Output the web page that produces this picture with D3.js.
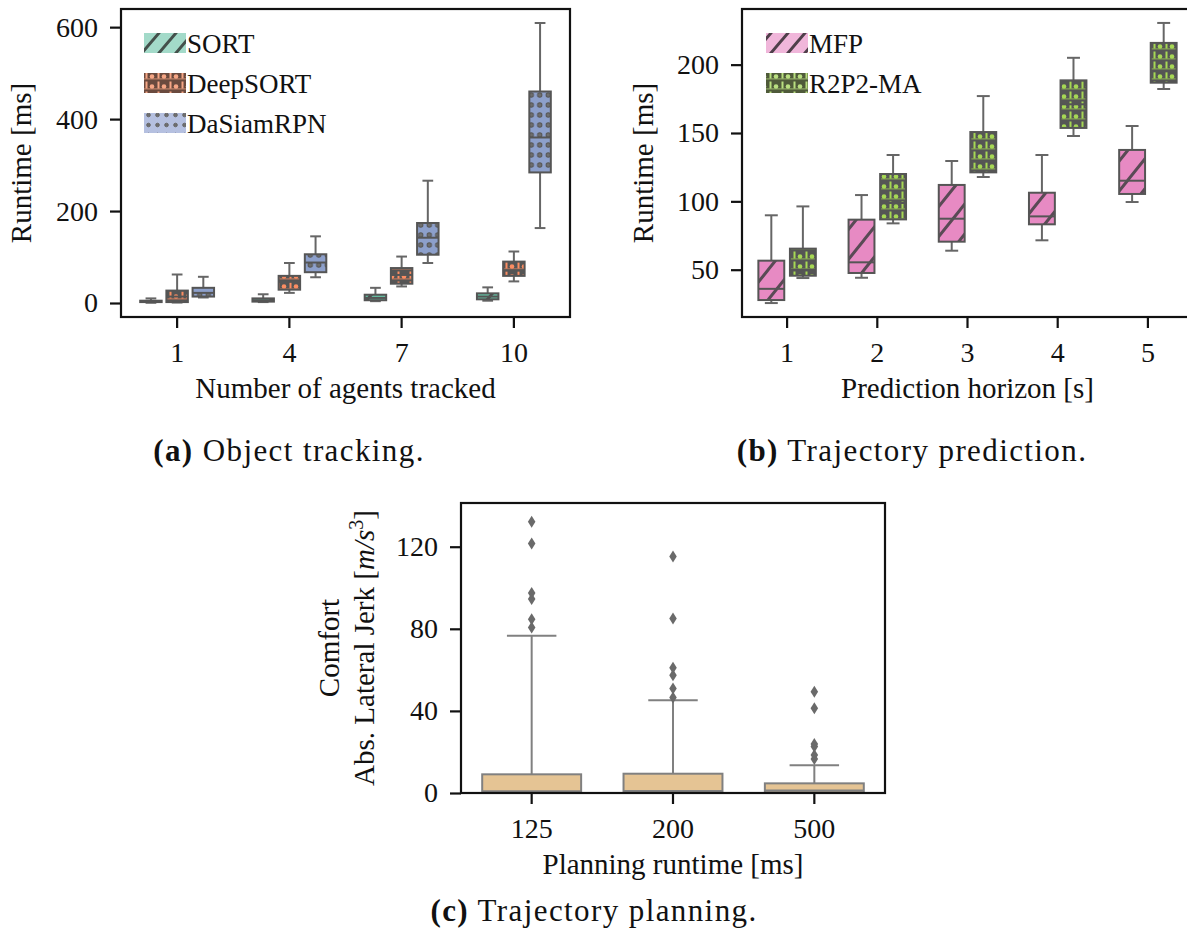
<!DOCTYPE html>
<html>
<head>
<meta charset="utf-8">
<script src="https://cdn.jsdelivr.net/npm/d3@7"></script>
<style>
  body { margin: 0; background: #fff; }
  svg { display: block; font-family: "Liberation Serif", "Times New Roman", serif; }
</style>
</head>
<body>
<svg></svg>
<script>
// Box stats are [lower whisker, q1, median, q3, upper whisker]
const trackCats = ['1', '4', '7', '10'];
const trackSeries = ['SORT', 'DeepSORT', 'DaSiamRPN'];
const sortStats = [[0.5, 2, 3, 5, 10], [2, 3, 6, 10, 19], [4, 6, 11, 18, 33], [5, 8, 14, 21, 34]];
const deepSortStats = [[1, 2, 14, 27, 62], [22, 29, 46, 59, 87], [36, 42, 61, 76, 101], [47, 59, 71, 90, 112]];
const daSiamStats = [[12, 14, 22, 33, 57], [56, 67, 88, 106, 145], [87, 105, 142, 174, 266], [163, 284, 360, 460, 609]];

const predCats = ['1', '2', '3', '4', '5'];
const predSeries = ['MFP', 'R2P2-MA'];
const mfpStats = [[25.6, 27.8, 36, 56.6, 89.8], [44.1, 47.6, 55.4, 86.6, 104.6], [63.9, 70.5, 87.3, 112, 129.5], [71.5, 83.2, 89, 106.3, 133.9], [99.5, 105.4, 115.1, 137.6, 155.1]];
const r2p2Stats = [[43.9, 45.6, 50, 65.4, 96.3], [83.9, 86.8, 98.8, 120, 133.9], [117.8, 121.2, 129, 150.7, 177], [147.8, 153.7, 171, 188.5, 205], [182.2, 186.8, 195.1, 215.9, 230.5]];

const planCats = ['125', '200', '500'];
const planStats = [[0, 0.3, 0.9, 9.1, 76.6], [0, 0.3, 1, 9.4, 45.2], [0, 0.3, 1.2, 4.7, 13.5]];
const planOutliers = [
  [80.6, 84.7, 94.5, 97.4, 121.6, 132.2],
  [46.5, 50.9, 57.4, 61, 85, 115.2],
  [16.6, 18.5, 22.6, 23.9, 41.3, 49.3]
];

const trackTicks = [0, 200, 400, 600];
const predTicks = [50, 100, 150, 200];
const planTicks = [0, 40, 80, 120];

const width = 1187, height = 943;
const svg = d3.select('svg').attr('width', width).attr('height', height);
const defs = svg.append('defs');

// ---- hatch patterns ----
function hatchPattern(id, w, h, bg, line, lw) {
  const p = defs.append('pattern').attr('id', id).attr('patternUnits', 'userSpaceOnUse')
    .attr('width', w).attr('height', h);
  p.append('rect').attr('width', w).attr('height', h).attr('fill', bg);
  p.append('path')
    .attr('d', `M0,${h}L${w},0M${-w / 2},${h / 2}L${w / 2},${-h / 2}M${w / 2},${1.5 * h}L${1.5 * w},${h / 2}`)
    .attr('stroke', line).attr('stroke-width', lw);
}
function dotPattern(id, w, h, bg, dot, r) {
  const p = defs.append('pattern').attr('id', id).attr('patternUnits', 'userSpaceOnUse')
    .attr('width', w).attr('height', h);
  p.append('rect').attr('width', w).attr('height', h).attr('fill', bg);
  p.append('circle').attr('cx', w / 2).attr('cy', h / 2).attr('r', r)
    .attr('fill', '#6e6e6e').attr('stroke', dot).attr('stroke-width', 1);
}
function markPattern(id, bg, mark) {
  const p = defs.append('pattern').attr('id', id).attr('patternUnits', 'userSpaceOnUse')
    .attr('width', 12).attr('height', 10);
  p.append('rect').attr('width', 12).attr('height', 10).attr('fill', bg);
  p.append('rect').attr('x', 1.5).attr('y', 1.5).attr('width', 2).attr('height', 7).attr('fill', mark);
  p.append('circle').attr('cx', 8).attr('cy', 6.5).attr('r', 2.3).attr('fill', mark);
  p.append('rect').attr('x', 0).attr('y', 8.3).attr('width', 12).attr('height', 1.2).attr('fill', mark).attr('opacity', 0.6);
}
hatchPattern('sortBox', 24, 28, '#66c2a5', '#4d4d4d', 3);
hatchPattern('sortLeg', 17, 20, '#a3dac9', '#44504b', 3);
hatchPattern('mfpBox', 24, 30, '#e78ac3', '#5a4a55', 3);
hatchPattern('mfpLeg', 17, 20, '#f0b6da', '#4f3f4a', 3);
dotPattern('dsBox', 8.5, 10, '#8da0cb', '#555', 2.2);
dotPattern('dsLeg', 9, 10, '#b5c0e0', '#666', 1.8);
markPattern('deepBox', '#555555', '#fc8d62');
markPattern('deepLeg', '#6a4a3e', '#f6a685');
markPattern('r2Box', '#555555', '#a6d854');
markPattern('r2Leg', '#4f5a3a', '#b9df80');

const edge = '#555';

function drawPanel(cfg) {
  const g = svg.append('g');
  const x = d3.scaleBand().domain(cfg.cats).range([cfg.left, cfg.right]).padding(0);
  const y = d3.scaleLinear().domain(cfg.yDomain).range([cfg.bottom, cfg.top]);
  const hue = d3.scaleBand().domain(cfg.series.map(s => s.name))
    .range([-0.35 * x.step(), 0.35 * x.step()]);
  const bw = cfg.series.length > 1 ? hue.bandwidth() * 0.82 : x.step() * 0.7;

  // axes
  const yAxis = g.append('g').attr('transform', `translate(${cfg.left},0)`)
    .call(d3.axisLeft(y).tickValues(cfg.ticks).tickSize(11).tickPadding(12).tickSizeOuter(0));
  const xAxis = g.append('g').attr('transform', `translate(0,${cfg.bottom})`)
    .call(d3.axisBottom(x).tickSize(11).tickPadding(14).tickSizeOuter(0));
  [yAxis, xAxis].forEach(a => {
    a.select('.domain').remove();
    a.selectAll('.tick line').attr('stroke', '#111').attr('stroke-width', 2.2);
    a.selectAll('.tick text').attr('fill', '#111').style('font-size', '28px')
      .style('font-family', '"Liberation Serif", serif');
  });

  cfg.series.forEach((s, j) => {
    const off = cfg.series.length > 1 ? hue(s.name) + hue.bandwidth() / 2 : 0;
    s.stats.forEach((d, i) => {
      const cx = x(cfg.cats[i]) + x.step() / 2 + off;
      const [lo, q1, med, q3, hi] = d;
      const lc = cfg.whisker || '#666';
      g.append('line').attr('x1', cx).attr('x2', cx).attr('y1', y(lo)).attr('y2', y(hi))
        .attr('stroke', lc).attr('stroke-width', 2);
      [lo, hi].forEach(v => g.append('line')
        .attr('x1', cx - bw / 4).attr('x2', cx + bw / 4).attr('y1', y(v)).attr('y2', y(v))
        .attr('stroke', lc).attr('stroke-width', 2));
      g.append('rect').attr('x', cx - bw / 2).attr('width', bw)
        .attr('y', y(q3)).attr('height', Math.max(1, y(q1) - y(q3)))
        .attr('fill', s.fill).attr('stroke', cfg.boxEdge || edge).attr('stroke-width', 2);
      g.append('line').attr('x1', cx - bw / 2).attr('x2', cx + bw / 2)
        .attr('y1', y(med)).attr('y2', y(med))
        .attr('stroke', cfg.boxEdge || edge).attr('stroke-width', 2);
      if (s.outliers) {
        s.outliers[i].forEach(v => g.append('path')
          .attr('d', d3.symbol(d3.symbolDiamond2 || d3.symbolDiamond, 70)())
          .attr('transform', `translate(${cx},${y(v)}) scale(0.72,1.15)`)
          .attr('fill', '#6a6a6a'));
      }
    });
  });

  // frame
  g.append('rect').attr('x', cfg.left).attr('y', cfg.top)
    .attr('width', cfg.right - cfg.left).attr('height', cfg.bottom - cfg.top)
    .attr('fill', 'none').attr('stroke', '#111').attr('stroke-width', 2.2);

  // legend
  if (cfg.legend) {
    cfg.series.forEach((s, j) => {
      const ly = cfg.legendY + j * 40;
      g.append('rect').attr('x', cfg.legendX).attr('y', ly - 10).attr('width', 42).attr('height', 20)
        .attr('fill', s.legFill);
      g.append('text').attr('x', cfg.legendX + 43).attr('y', ly + 10)
        .style('font-size', '27px').attr('fill', '#111').text(s.name);
    });
  }

  // x label
  g.append('text').attr('x', (cfg.left + Math.min(cfg.right, width)) / 2 + (cfg.xlabDx || 0))
    .attr('y', cfg.bottom + 81).attr('text-anchor', 'middle')
    .style('font-size', '29px').attr('fill', '#111').text(cfg.xlabel);
  return { x, y };
}

drawPanel({
  cats: trackCats, left: 121, right: 570, top: 9, bottom: 317,
  yDomain: [-30.45, 639.45], ticks: trackTicks,
  series: [
    { name: trackSeries[0], stats: sortStats, fill: 'url(#sortBox)', legFill: 'url(#sortLeg)' },
    { name: trackSeries[1], stats: deepSortStats, fill: 'url(#deepBox)', legFill: 'url(#deepLeg)' },
    { name: trackSeries[2], stats: daSiamStats, fill: 'url(#dsBox)', legFill: 'url(#dsLeg)' }
  ],
  legend: true, legendX: 144, legendY: 43,
  xlabel: 'Number of agents tracked'
});

drawPanel({
  cats: predCats, left: 742, right: 1193, top: 9, bottom: 317,
  yDomain: [15.4, 240.7], ticks: predTicks,
  series: [
    { name: predSeries[0], stats: mfpStats, fill: 'url(#mfpBox)', legFill: 'url(#mfpLeg)' },
    { name: predSeries[1], stats: r2p2Stats, fill: 'url(#r2Box)', legFill: 'url(#r2Leg)' }
  ],
  legend: true, legendX: 766, legendY: 43,
  xlabel: 'Prediction horizon [s]', xlabDx: 3
});

drawPanel({
  cats: planCats, left: 461, right: 885, top: 503, bottom: 793,
  yDomain: [0, 141.3], ticks: planTicks,
  series: [{ name: 'plan', stats: planStats, fill: '#e5c494', outliers: planOutliers }],
  boxEdge: '#808080', whisker: '#808080',
  xlabel: 'Planning runtime [ms]', xlabDx: 0
});

// y labels
function yLabel(x, y, txt) {
  return svg.append('text').attr('transform', `translate(${x},${y}) rotate(-90)`)
    .attr('text-anchor', 'middle').style('font-size', '29px').attr('fill', '#111').text(txt);
}
yLabel(31, 163, 'Runtime [ms]');
yLabel(653, 163, 'Runtime [ms]');
yLabel(339, 648, 'Comfort');
const jerk = yLabel(374, 648, 'Abs. Lateral Jerk [');
jerk.append('tspan').style('font-style', 'italic').text('m/s');
jerk.append('tspan').attr('dy', -11).style('font-size', '20px').text('3');
jerk.append('tspan').attr('dy', 11).text(']');

// captions
function caption(x, y, tag, txt) {
  const t = svg.append('text').attr('x', x).attr('y', y).attr('text-anchor', 'middle')
    .style('font-size', '31px').style('letter-spacing', '1.4px').attr('fill', '#111');
  t.append('tspan').style('font-weight', 'bold').text(tag);
  t.append('tspan').text(' ' + txt);
}
caption(289, 461, '(a)', 'Object tracking.');
caption(912, 461, '(b)', 'Trajectory prediction.');
caption(594, 921, '(c)', 'Trajectory planning.');
</script>
</body>
</html>
